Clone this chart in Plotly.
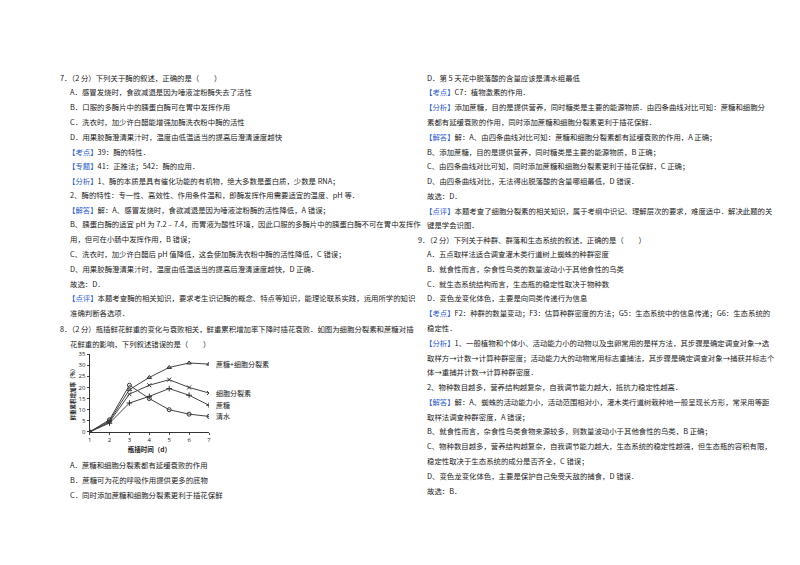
import plotly.graph_objects as go

# chart data
days = [1, 2, 3, 4, 5, 6, 7]
sugar_ck = [0, 5, 19, 24.5, 29, 31, 30.5]
ck = [0, 4.5, 17, 21, 23.5, 20, 17.5]
sugar = [0, 4, 13, 16, 19.5, 16.5, 12]
water = [0, 5.5, 21, 15, 10, 8, 7]
series_names = ["蔗糖+细胞分裂素", "细胞分裂素", "蔗糖", "清水"]
series_label_y = [30.5, 17.5, 12, 7]

B = "<span style='color:#2c5bd0'>%s</span>"

left_lines = [
    (48, 66, "7．（2 分）下列关于酶的叙述，正确的是（　　）"),
    (58, 81, "A．感冒发烧时，食欲减退是因为唾液淀粉酶失去了活性"),
    (58, 96, "B．口服的多酶片中的胰蛋白酶可在胃中发挥作用"),
    (58, 111, "C．洗衣时，加少许白醋能增强加酶洗衣粉中酶的活性"),
    (58, 126, "D．用果胶酶澄清果汁时，温度由低温适当的提高后澄清速度越快"),
    (56, 141, B % "【考点】" + "39：酶的特性．"),
    (56, 156, B % "【专题】" + "41：正推法；542：酶的应用．"),
    (56, 171, B % "【分析】" + "1、酶的本质是具有催化功能的有机物，绝大多数是蛋白质，少数是 RNA；"),
    (58, 185, "2、酶的特性：专一性、高效性、作用条件温和，即酶发挥作用需要适宜的温度、pH 等．"),
    (56, 200, B % "【解答】" + "解：A、感冒发烧时，食欲减退是因为唾液淀粉酶的活性降低，A 错误；"),
    (58, 215, "B、胰蛋白酶的适宜 pH 为 7.2﹣7.4，而胃液为酸性环境，因此口服的多酶片中的胰蛋白酶不可在胃中发挥作"),
    (58, 230, "用，但可在小肠中发挥作用，B 错误；"),
    (58, 245, "C、洗衣时，加少许白醋后 pH 值降低，这会使加酶洗衣粉中酶的活性降低，C 错误；"),
    (58, 260, "D、用果胶酶澄清果汁时，温度由低温适当的提高后澄清速度越快，D 正确．"),
    (58, 275, "故选：D．"),
    (56, 290, B % "【点评】" + "本题考查酶的相关知识，要求考生识记酶的概念、特点等知识，能理论联系实践，运用所学的知识"),
    (58, 305, "准确判断各选项．"),
    (48, 321, "8．（2 分）瓶插鲜花鲜重的变化与衰败相关，鲜重累积增加率下降时插花衰败．如图为细胞分裂素和蔗糖对插"),
    (58, 336, "花鲜重的影响，下列叙述错误的是（　　）"),
    (58, 459, "A．蔗糖和细胞分裂素都有延缓衰败的作用"),
    (58, 474, "B．蔗糖可为花的呼吸作用提供更多的底物"),
    (58, 489, "C．同时添加蔗糖和细胞分裂素更利于插花保鲜"),
]

right_lines = [
    (417, 66, "D．第 5 天花中脱落酸的含量应该是清水组最低"),
    (415, 81, B % "【考点】" + "C7：植物激素的作用．"),
    (415, 96, B % "【分析】" + "添加蔗糖，目的是提供营养，同时糖类是主要的能源物质．由四条曲线对比可知：蔗糖和细胞分"),
    (417, 111, "素都有延缓衰败的作用，同时添加蔗糖和细胞分裂素更利于插花保鲜．"),
    (415, 126, B % "【解答】" + "解：A、由四条曲线对比可知：蔗糖和细胞分裂素都有延缓衰败的作用，A 正确；"),
    (417, 141, "B、添加蔗糖，目的是提供营养，同时糖类是主要的能源物质，B 正确；"),
    (417, 156, "C、由四条曲线对比可知，同时添加蔗糖和细胞分裂素更利于插花保鲜，C 正确；"),
    (417, 171, "D、由四条曲线对比，无法得出脱落酸的含量哪组最低，D 错误．"),
    (417, 186, "故选：D．"),
    (415, 201, B % "【点评】" + "本题考查了细胞分裂素的相关知识，属于考纲中识记、理解层次的要求，难度适中．解决此题的关"),
    (417, 216, "键是学会识图．"),
    (408, 231, "9．（2 分）下列关于种群、群落和生态系统的叙述，正确的是（　　）"),
    (417, 245, "A．五点取样法适合调查灌木类行道树上蜘蛛的种群密度"),
    (417, 260, "B．就食性而言，杂食性鸟类的数量波动小于其他食性的鸟类"),
    (417, 275, "C．就生态系统结构而言，生态瓶的稳定性取决于物种数"),
    (417, 290, "D．变色龙变化体色，主要是向同类传递行为信息"),
    (415, 305, B % "【考点】" + "F2：种群的数量变动；F3：估算种群密度的方法；G5：生态系统中的信息传递；G6：生态系统的"),
    (417, 320, "稳定性．"),
    (415, 335, B % "【分析】" + "1、一般植物和个体小、活动能力小的动物以及虫卵常用的是样方法，其步骤是确定调查对象→选"),
    (417, 350, "取样方→计数→计算种群密度；活动能力大的动物常用标志重捕法，其步骤是确定调查对象→捕获并标志个"),
    (417, 365, "体→重捕并计数→计算种群密度．"),
    (417, 380, "2、物种数目越多，营养结构越复杂，自我调节能力越大，抵抗力稳定性越高．"),
    (415, 395, B % "【解答】" + "解：A、蜘蛛的活动能力小，活动范围相对小，灌木类行道树栽种地一般呈现长方形，常采用等距"),
    (417, 410, "取样法调查种群密度，A 错误；"),
    (417, 425, "B、就食性而言，杂食性鸟类食物来源较多，则数量波动小于其他食性的鸟类，B 正确；"),
    (417, 440, "C、物种数目越多，营养结构越复杂，自我调节能力越大，生态系统的稳定性越强，但生态瓶的容积有限，"),
    (417, 455, "稳定性取决于生态系统的成分是否齐全，C 错误；"),
    (417, 470, "D、变色龙变化体色，主要是保护自己免受天敌的捕食，D 错误．"),
    (417, 485, "故选：B．"),
]

W, H = 800, 565
fig = go.Figure()

markers = ["triangle-up-open", "x-thin", "cross-thin", "circle-open"]
for name, ys, m in zip(series_names, [sugar_ck, ck, sugar, water], markers):
    fig.add_trace(go.Scatter(
        x=days, y=ys, mode="lines+markers", name=name,
        line=dict(color="#444", width=1),
        marker=dict(symbol=m, size=4, color="#333", line=dict(width=1, color="#333")),
    ))

for name, yv in zip(series_names, series_label_y):
    fig.add_annotation(x=7, y=yv, text=name, showarrow=False, xanchor="left",
                       xshift=5, font=dict(size=7, color="#222", family="Noto Sans CJK SC"))

for x, y, t in left_lines + right_lines:
    fig.add_annotation(
        x=x / W, y=1 - y / H, xref="paper", yref="paper", text=t,
        showarrow=False, xanchor="left", yanchor="middle",
        font=dict(size=7.4, color="#222", family="Noto Sans CJK SC"),
    )

fig.update_layout(
    width=W, height=H, margin=dict(l=0, r=0, t=0, b=0),
    paper_bgcolor="white", plot_bgcolor="white", showlegend=False,
    xaxis=dict(domain=[80 / W, 200 / W], range=[1, 7], dtick=1, showline=True,
               linecolor="#333", ticks="outside", ticklen=2, showgrid=False, zeroline=False,
               tickfont=dict(size=6, color="#222"),
               title=dict(text="<b>瓶插时间（d）</b>", font=dict(size=6.5, color="#222",
                          family="Noto Sans CJK SC"), standoff=2)),
    yaxis=dict(domain=[1 - 426 / H, 1 - 347 / H], range=[0, 35], dtick=5, showline=True,
               linecolor="#333", ticks="outside", ticklen=2, showgrid=False, zeroline=False,
               tickfont=dict(size=6, color="#222"),
               title=dict(text="<b>鲜重累积增加率（%）</b>", font=dict(size=5.5, color="#222",
                          family="Noto Sans CJK SC"), standoff=2)),
)

fig.write_html("out.html")
